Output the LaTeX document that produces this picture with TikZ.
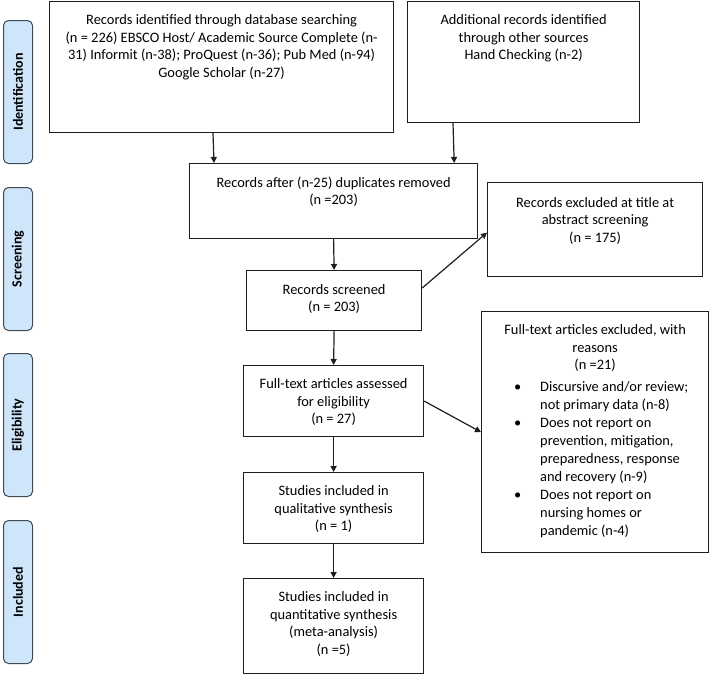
\documentclass[tikz,border=0pt]{standalone}
\usepackage{fontspec}
\setmainfont{Carlito}
\usetikzlibrary{calc,arrows.meta}
\definecolor{sidefill}{RGB}{207,230,250}
\definecolor{sidedraw}{RGB}{62,74,86}
\definecolor{linec}{RGB}{30,30,30}
\begin{document}
\begin{tikzpicture}[x=1pt,y=-1pt,
  box/.style={draw=linec,line width=1.2pt,rectangle,inner sep=0pt,anchor=north west},
  side/.style={draw=sidedraw,fill=sidefill,line width=1pt,rounded corners=5pt,rectangle,inner sep=0pt,anchor=north west,minimum width=29,minimum height=143},
  txt/.style={font=\fontsize{14.4}{17.6}\selectfont,align=center,inner sep=0pt,anchor=north,text=black,execute at begin node=\strut},
  sidetxt/.style={font=\fontsize{14}{15}\selectfont\bfseries,rotate=90,text=black,inner sep=0pt},
  arr/.style={draw=linec,line width=1.2pt,-{Triangle[length=6pt,width=6pt]}}]
\useasboundingbox (0,0) rectangle (709,675);

% side bars
\node[side] (s1) at (3,20) {};
\node[sidetxt] at (s1.center) {Identification};
\node[side] (s2) at (3,187) {};
\node[sidetxt] at (s2.center) {Screening};
\node[side] (s3) at (3,353) {};
\node[sidetxt] at (s3.center) {Eligibility};
\node[side] (s4) at (3,520) {};
\node[sidetxt] at (s4.center) {Included};

% boxes
\node[box,minimum width=344,minimum height=131] (b1) at (49,1) {};
\node[txt] at ($(b1.north)+(0,13.5)$) {Records identified through database searching\\
(n = 226) EBSCO Host/ Academic Source Complete (n-\\
31) Informit (n-38); ProQuest (n-36); Pub Med (n-94)\\
Google Scholar (n-27)};

\node[box,minimum width=232,minimum height=121] (b2) at (407,1) {};
\node[txt] at ($(b2.north)+(0,13.5)$) {Additional records identified\\ through other sources\\ Hand Checking (n-2)};

\node[box,minimum width=288,minimum height=75] (b3) at (189,163) {};
\node[txt] at ($(b3.north)+(0,13.5)$) {Records after (n-25) duplicates removed\\ (n =203)};

\node[box,minimum width=175,minimum height=60] (b4) at (246,270) {};
\node[txt] at ($(b4.north)+(0,14)$) {Records screened\\ (n = 203)};

\node[box,minimum width=215,minimum height=94] (ex1) at (487,182) {};
\node[txt] at ($(ex1.north)+(0,15)$) {Records excluded at title at\\ abstract screening\\ (n = 175)};

\node[box,minimum width=180,minimum height=71] (b5) at (243,365) {};
\node[txt] at ($(b5.north)+(0,13.5)$) {Full-text articles assessed\\ for eligibility\\ (n = 27)};

\node[box,minimum width=227,minimum height=241] (ex2) at (481,311) {};
\node[txt] at ($(ex2.north)+(0,13.5)$) {Full-text articles excluded, with\\ reasons\\ (n =21)};
\node[inner sep=0pt,anchor=north west,text=black,font=\fontsize{14.4}{18}\selectfont] at (514,379)
{\begin{tabular}{@{}p{26pt}@{}l@{}}
\textbullet & Discursive and/or review;\\
 & not primary data (n-8)\\
\textbullet & Does not report on\\
 & prevention, mitigation,\\
 & preparedness, response\\
 & and recovery (n-9)\\
\textbullet & Does not report on\\
 & nursing homes or\\
 & pandemic (n-4)
\end{tabular}};

\node[box,minimum width=180,minimum height=71] (b6) at (243,472) {};
\node[txt] at ($(b6.north)+(0,13.5)$) {Studies included in\\ qualitative synthesis\\ (n = 1)};

\node[box,minimum width=180,minimum height=95] (b7) at (243,578) {};
\node[txt] at ($(b7.north)+(0,13.5)$) {Studies included in\\ quantitative synthesis\\ (meta-analysis)\\ (n =5)};

% connectors
\draw[arr] ($(b1.south west)+(164,0)$) -- ($(b3.north west)+(25,0)$);
\draw[arr] ($(b2.south west)+(46,0)$) -- ($(b3.north east)+(-24,0)$);
\draw[arr] (b3.south) -- (b4.north);
\draw[arr] ($(b4.north east)+(0,18)$) -- ($(ex1.west)+(0,3)$);
\draw[arr] (b4.south) -- (b5.north);
\draw[arr] (b5.east) -- (ex2.west);
\draw[arr] (b5.south) -- (b6.north);
\draw[arr] (b6.south) -- (b7.north);
\end{tikzpicture}
\end{document}
